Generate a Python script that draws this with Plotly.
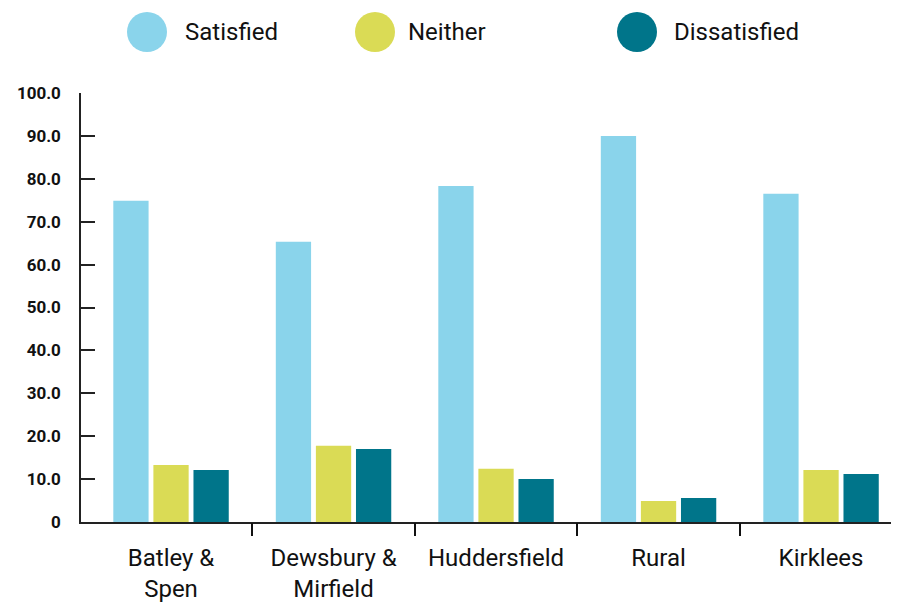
import plotly.graph_objects as go

categories = ["Batley &<br>Spen", "Dewsbury &<br>Mirfield", "Huddersfield", "Rural", "Kirklees"]
series_names = ["Satisfied", "Neither", "Dissatisfied"]
satisfied = [74.9, 65.3, 78.3, 90.0, 76.5]
neither = [13.3, 17.8, 12.4, 4.9, 12.1]
dissatisfied = [12.1, 17.0, 10.0, 5.6, 11.2]
colors = ["#8AD4EB", "#DADB55", "#00758A"]
y_tickvals = [0, 10, 20, 30, 40, 50, 60, 70, 80, 90, 100]
y_ticktext = ["0", "10.0", "20.0", "30.0", "40.0", "50.0", "60.0", "70.0", "80.0", "90.0", "100.0"]

W, H = 899, 603
ML, MR, MT, MB = 73, 0, 85, 89
FONT = "Roboto"

x_idx = list(range(len(categories)))
fig = go.Figure()
for name, vals, col in zip(series_names, [satisfied, neither, dissatisfied], colors):
    fig.add_trace(go.Bar(x=x_idx, y=vals, name=name, marker=dict(color=col, line=dict(width=0)),
                         showlegend=False))

# overlay axis carrying boundary tick marks
fig.add_trace(go.Scatter(x=[0.5], y=[0], xaxis="x2", mode="markers",
                         marker=dict(opacity=0), showlegend=False, hoverinfo="skip"))

xr = [-0.554, 4.529]
fig.update_layout(
    width=W, height=H,
    margin=dict(l=ML, r=MR, t=MT, b=MB),
    plot_bgcolor="white", paper_bgcolor="white",
    barmode="group", bargap=0.26, bargroupgap=0.12,
    font=dict(family=FONT, color="#111111"),
    xaxis=dict(range=xr, tickvals=x_idx, ticktext=categories, ticks="",
               showline=True, linecolor="#222222", linewidth=2, showgrid=False,
               zeroline=False, tickfont=dict(size=24, color="#111111"), ticklabelstandoff=13),
    xaxis2=dict(range=xr, overlaying="x", anchor="y", side="bottom",
                tickvals=[0.5, 1.5, 2.5, 3.5], ticktext=["", "", "", ""],
                ticks="outside", ticklen=13, tickwidth=2, tickcolor="#111111",
                showline=False, showgrid=False, zeroline=False),
    yaxis=dict(range=[0, 100], tickvals=y_tickvals, ticktext=y_ticktext,
               ticks="inside", ticklen=14, tickwidth=1.5, tickcolor="#222222",
               showline=True, linecolor="#222222", linewidth=1.5, showgrid=False,
               zeroline=False, tickfont=dict(size=17, color="#111111", weight="bold"),
               ticklabelstandoff=15),
)

# custom legend (large circles); positions in figure pixels
legend_px = [(139, 175), (367, 398), (629, 664)]
legend_y = 24
pw = W - ML - MR
ph = H - MT - MB
yp = (H - MB - legend_y) / ph
shapes, annots = [], []
for (cx, tx), name, col in zip(legend_px, series_names, colors):
    xp = (cx - ML) / pw
    shapes.append(dict(type="circle", xref="paper", yref="paper", xsizemode="pixel", ysizemode="pixel",
                       xanchor=xp, yanchor=yp, x0=-20, x1=20, y0=-20, y1=20,
                       fillcolor=col, line=dict(width=0)))
    annots.append(dict(x=(tx - ML) / pw, y=yp, xref="paper", yref="paper", text=name,
                       showarrow=False, xanchor="left", yanchor="middle",
                       font=dict(size=24, color="#111111", family=FONT)))
fig.update_layout(shapes=shapes, annotations=annots)

fig.write_html("out.html")
